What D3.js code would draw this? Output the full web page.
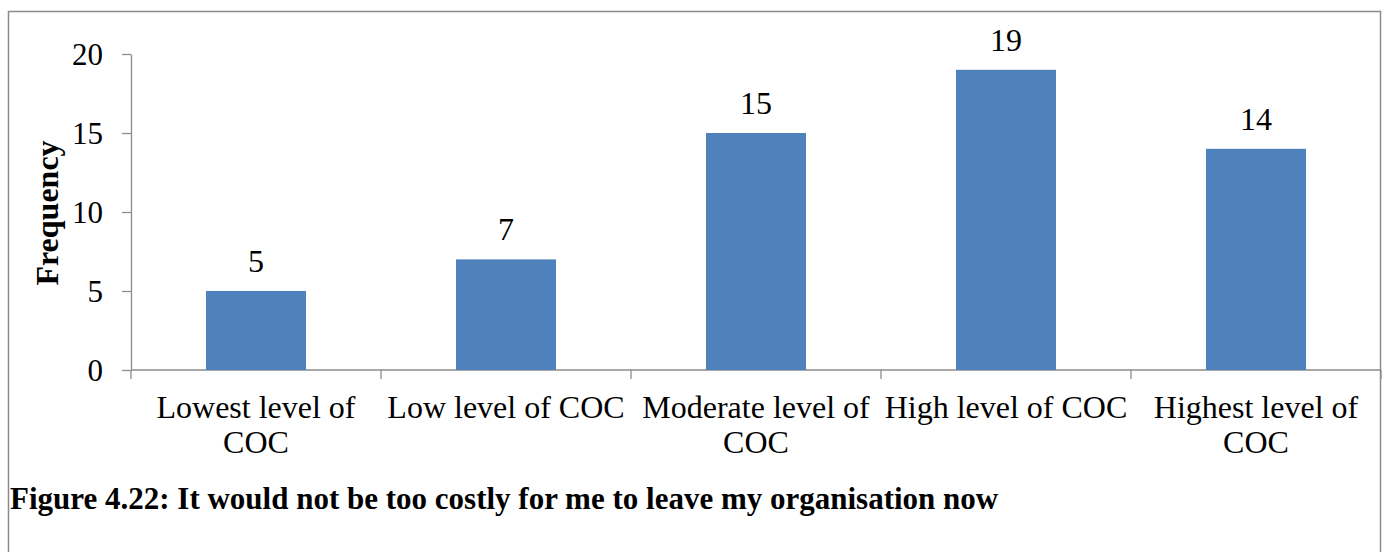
<!DOCTYPE html>
<html>
<head>
<meta charset="utf-8">
<script src="https://cdn.jsdelivr.net/npm/d3@7"></script>
<style>
  body { margin: 0; background: #fff; }
  svg text { font-family: "Liberation Serif", "Times New Roman", serif; fill: #000; }
  .axis path, .axis line { stroke: #8c8c8c; stroke-width: 1.3; }
</style>
</head>
<body>
<div id="chart"></div>
<script>
// data
var categories = [["Lowest level of", "COC"], ["Low level of COC"], ["Moderate level of", "COC"], ["High level of COC"], ["Highest level of", "COC"]];
var frequency = [5, 7, 15, 19, 14];
var yTicks = [0, 5, 10, 15, 20];

var svgWidth = 1385;
var svgHeight = 552;

var margin = { top: 54, left: 131, right: 4, bottom: 182 };
var chartWidth = svgWidth - margin.left - margin.right;
var chartHeight = svgHeight - margin.top - margin.bottom;

var svg = d3.select("#chart")
  .append("svg")
  .attr("width", svgWidth)
  .attr("height", svgHeight);

// outer frame
svg.append("rect")
  .attr("x", 8.5)
  .attr("y", 11.5)
  .attr("width", 1372)
  .attr("height", 560)
  .attr("fill", "none")
  .attr("stroke", "#8c8c8c")
  .attr("stroke-width", 1.5);

var chartGroup = svg.append("g")
  .attr("transform", `translate(${margin.left}, ${margin.top})`);

var keys = categories.map((c, i) => i);

var xScale = d3.scaleBand()
  .domain(keys)
  .range([0, 1250])
  .paddingInner(0.6)
  .paddingOuter(0.3);

var yScale = d3.scaleLinear()
  .domain([0, 20])
  .range([chartHeight, 0]);

// y axis
var yAxis = d3.axisLeft(yScale)
  .tickValues(yTicks)
  .tickSize(9)
  .tickPadding(19)
  .tickSizeOuter(0);

var yG = chartGroup.append("g")
  .attr("class", "axis")
  .call(yAxis);
yG.selectAll("text").style("font-size", "31px").attr("dy", "0.34em");

// x axis: plain baseline with category dividers
var xG = chartGroup.append("g")
  .attr("class", "axis")
  .attr("transform", `translate(0, ${chartHeight})`);

xG.append("line")
  .attr("x1", 0).attr("x2", 1250)
  .attr("y1", 0).attr("y2", 0);

var step = xScale.step();
xG.selectAll(".divider")
  .data(d3.range(keys.length + 1))
  .enter()
  .append("line")
  .attr("class", "divider")
  .attr("x1", d => xScale(0) - xScale.step() * xScale.paddingOuter() + d * step)
  .attr("x2", d => xScale(0) - xScale.step() * xScale.paddingOuter() + d * step)
  .attr("y1", 0)
  .attr("y2", 9);

var labels = xG.selectAll(".catlabel")
  .data(categories)
  .enter()
  .append("text")
  .attr("class", "catlabel")
  .attr("text-anchor", "middle")
  .style("font-size", "32px")
  .attr("x", (d, i) => xScale(i) + xScale.bandwidth() / 2)
  .attr("y", 48);

labels.selectAll("tspan")
  .data(d => d)
  .enter()
  .append("tspan")
  .attr("x", function() { return d3.select(this.parentNode).attr("x"); })
  .attr("dy", (d, i) => i === 0 ? 0 : 35)
  .text(d => d);

// bars
chartGroup.selectAll(".bar")
  .data(frequency)
  .enter()
  .append("rect")
  .attr("class", "bar")
  .attr("x", (d, i) => xScale(i))
  .attr("y", d => yScale(d))
  .attr("width", xScale.bandwidth())
  .attr("height", d => chartHeight - yScale(d))
  .attr("fill", "#4f81bd");

// value labels
chartGroup.selectAll(".value")
  .data(frequency)
  .enter()
  .append("text")
  .attr("class", "value")
  .attr("text-anchor", "middle")
  .style("font-size", "32px")
  .attr("x", (d, i) => xScale(i) + xScale.bandwidth() / 2)
  .attr("y", d => yScale(d) - 19)
  .text(d => d);

// y axis title
svg.append("text")
  .attr("transform", "translate(58, 213) rotate(-90)")
  .attr("text-anchor", "middle")
  .style("font-size", "32px")
  .style("font-weight", "bold")
  .text("Frequency");

// figure caption
svg.append("text")
  .attr("x", 10)
  .attr("y", 509)
  .style("font-size", "31px")
  .style("font-weight", "bold")
  .text("Figure 4.22: It would not be too costly for me to leave my organisation now");
</script>
</body>
</html>
